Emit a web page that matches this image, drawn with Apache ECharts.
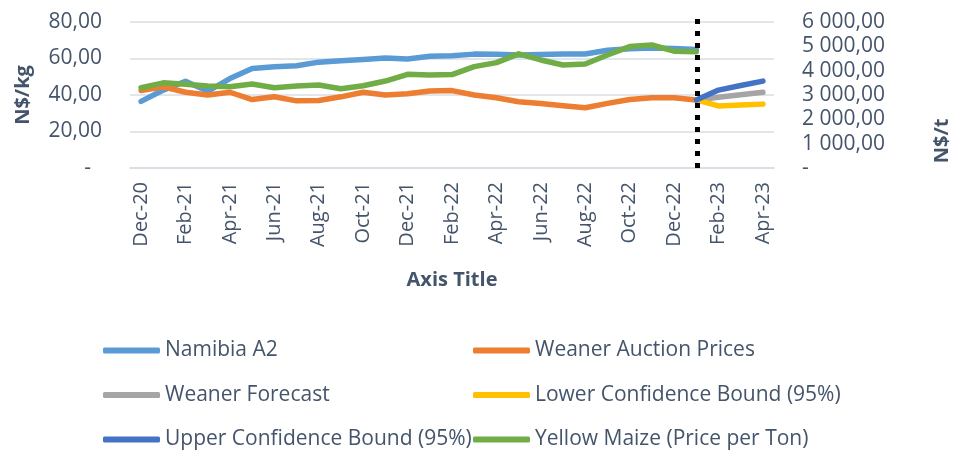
<!DOCTYPE html>
<html>
<head>
<meta charset="utf-8">
<script src="https://cdn.jsdelivr.net/npm/echarts@6/dist/echarts.min.js"></script>
<style>
  html, body { margin: 0; padding: 0; background: #fff; }
  #chart { width: 960px; height: 451px; }
</style>
</head>
<body>
<div id="chart"></div>
<script>
// months on the category axis
var months = ['Dec-20','Jan-21','Feb-21','Mar-21','Apr-21','May-21','Jun-21','Jul-21','Aug-21','Sep-21','Oct-21','Nov-21',
    'Dec-21','Jan-22','Feb-22','Mar-22','Apr-22','May-22','Jun-22','Jul-22','Aug-22','Sep-22','Oct-22','Nov-22',
    'Dec-22','Jan-23','Feb-23','Mar-23','Apr-23'];

// N$/kg (left axis)
var namibiaA2 = [36.5, 42.7, 47.5, 42, 49, 54.5, 55.5, 56, 58, 58.8, 59.5, 60.3, 59.7, 61.2, 61.5, 62.4, 62.3, 61.9, 62.2, 62.4,
    62.5, 64.5, 65.3, 65.8, 65.5, 65, null, null, null];
var weanerAuction = [42.5, 44.5, 41.5, 40, 41.5, 37.5, 39, 36.8, 37, 39, 41.5, 40, 40.7, 42.2, 42.4, 40, 38.5, 36.3, 35.4, 34.1,
    33, 35.4, 37.5, 38.5, 38.5, 37.3, null, null, null];
var weanerForecast = [null, null, null, null, null, null, null, null, null, null, null, null, null, null, null, null, null, null,
    null, null, null, null, null, null, null, 37.3, 38.8, 40.1, 41.5];
var lowerBound = [null, null, null, null, null, null, null, null, null, null, null, null, null, null, null, null, null, null,
    null, null, null, null, null, null, null, 37.3, 34, 34.5, 35];
var upperBound = [null, null, null, null, null, null, null, null, null, null, null, null, null, null, null, null, null, null,
    null, null, null, null, null, null, null, 37.3, 42.7, 45.2, 47.6];

// N$/t (right axis)
var yellowMaize = [3300, 3500, 3440, 3370, 3340, 3450, 3300, 3370, 3410, 3260, 3380, 3575, 3850, 3820, 3840, 4165, 4330, 4690,
    4440, 4235, 4275, 4645, 4990, 5055, 4800, 4780, null, null, null];

// forecast starts here (dotted divider)
var dividerMonth = 'Jan-23';

var textColor = '#44546A';
var fontFamily = '"Open Sans", sans-serif';

function kgLabel(v){
    if (v === 0) return '-  ';
    return v.toFixed(2).replace('.', ',');
}
function tonLabel(v){
    if (v === 0) return '-';
    var s = v.toFixed(2).split('.');
    return s[0].replace(/\B(?=(\d{3})+(?!\d))/g, ' ') + ',' + s[1];
}

function lineSeries(name, data, color, axis){
    return {
        name: name,
        type: 'line',
        yAxisIndex: axis || 0,
        data: data,
        symbol: 'none',
        connectNulls: false,
        lineStyle: { color: color, width: 5.5, cap: 'round', join: 'round' },
        itemStyle: { color: color },
        emphasis: { disabled: true }
    };
}

var chart = echarts.init(document.getElementById('chart'));

var legendText = { color: textColor, fontSize: 21, fontFamily: fontFamily };

var option = {
    animation: false,
    backgroundColor: '#fff',
    grid: [
        { left: 130, right: 185, top: 22, bottom: 283 },
        // a slightly taller twin grid, only for the dotted divider that pokes above the plot
        { left: 130, right: 185, top: 12, bottom: 283 }
    ],
    legend: [
        {
            orient: 'vertical', left: 103, top: 340, padding: 0,
            itemWidth: 57, itemHeight: 6, itemGap: 23.5, icon: 'roundRect',
            textStyle: legendText,
            data: ['Namibia A2', 'Weaner Forecast', 'Upper Confidence Bound (95%)']
        },
        {
            orient: 'vertical', left: 473, top: 340, padding: 0,
            itemWidth: 57, itemHeight: 6, itemGap: 23.5, icon: 'roundRect',
            textStyle: legendText,
            data: ['Weaner Auction Prices', 'Lower Confidence Bound (95%)', 'Yellow Maize (Price per Ton)']
        }
    ],
    xAxis: [
        {
            type: 'category',
            data: months,
            boundaryGap: true,
            name: 'Axis Title',
            nameLocation: 'middle',
            nameGap: 102,
            nameTextStyle: { color: textColor, fontSize: 20, fontWeight: 'bold', fontFamily: fontFamily },
            axisLine: { lineStyle: { color: '#D9DDE3', width: 1.5 } },
            axisTick: { show: false },
            axisLabel: { rotate: 90, interval: 1, margin: 14, color: textColor, fontSize: 20, fontFamily: fontFamily }
        },
        {
            type: 'category', gridIndex: 1, data: months, boundaryGap: true, show: false
        }
    ],
    yAxis: [
        {
            type: 'value', min: 0, max: 80, interval: 20,
            name: 'N$/kg', nameLocation: 'middle', nameRotate: 90, nameGap: 97,
            nameTextStyle: { color: textColor, fontSize: 20, fontWeight: 'bold', fontFamily: fontFamily },
            axisLine: { show: false }, axisTick: { show: false },
            axisLabel: { formatter: kgLabel, margin: 28, color: textColor, fontSize: 21, fontFamily: fontFamily },
            splitLine: { lineStyle: { color: '#D9DDE3', width: 1.5 } }
        },
        {
            type: 'value', min: 0, max: 6000, interval: 1000, position: 'right',
            name: 'N$/t', nameLocation: 'middle', nameRotate: 90, nameGap: 158,
            nameTextStyle: { color: textColor, fontSize: 20, fontWeight: 'bold', fontFamily: fontFamily, padding: [0, 92, 0, 0] },
            axisLine: { show: false }, axisTick: { show: false },
            axisLabel: { formatter: tonLabel, margin: 28, color: textColor, fontSize: 21, fontFamily: fontFamily },
            splitLine: { show: false }
        },
        {
            type: 'value', gridIndex: 1, min: 0, max: 1, show: false, splitLine: { show: false }
        }
    ],
    series: [
        lineSeries('Namibia A2', namibiaA2, '#5B9BD5'),
        lineSeries('Weaner Auction Prices', weanerAuction, '#ED7D31'),
        lineSeries('Weaner Forecast', weanerForecast, '#A5A5A5'),
        lineSeries('Lower Confidence Bound (95%)', lowerBound, '#FFC000'),
        lineSeries('Upper Confidence Bound (95%)', upperBound, '#4472C4'),
        lineSeries('Yellow Maize (Price per Ton)', yellowMaize, '#70AD47', 1),
        {
            name: 'divider',
            type: 'line',
            xAxisIndex: 1,
            yAxisIndex: 2,
            data: [],
            z: 5,
            markLine: {
                silent: true,
                symbol: 'none',
                label: { show: false },
                lineStyle: { color: '#000', width: 5, type: [5, 7], cap: 'butt' },
                data: [{ xAxis: dividerMonth }]
            }
        }
    ]
};

chart.setOption(option);
</script>
</body>
</html>
